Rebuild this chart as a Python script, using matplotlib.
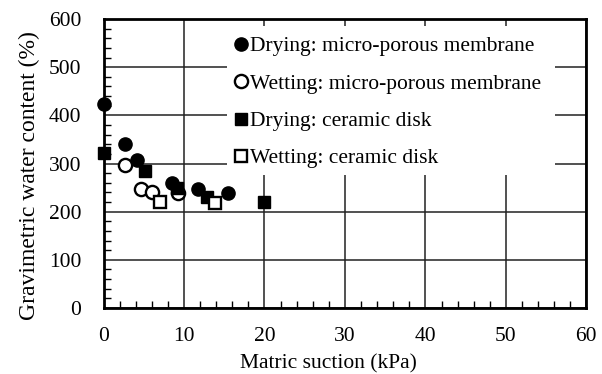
import matplotlib
matplotlib.use("Agg")
import matplotlib.pyplot as plt
from matplotlib.patches import Rectangle
from matplotlib.ticker import MultipleLocator

plt.rcParams['font.family'] = ['Liberation Serif', 'DejaVu Serif']

# data
dry_mem_x = [0.1, 2.7, 4.2, 8.5, 11.8, 15.5]
dry_mem_y = [424, 341, 308, 259, 248, 239]
wet_mem_x = [2.7, 4.7, 6.0, 9.2]
wet_mem_y = [296, 248, 241, 239]
dry_cer_x = [0.1, 5.2, 9.1, 12.8, 20.0]
dry_cer_y = [322, 284, 250, 230, 221]
wet_cer_x = [7.0, 13.9]
wet_cer_y = [221, 219]
labels = ["Drying: micro-porous membrane", "Wetting: micro-porous membrane",
          "Drying: ceramic disk", "Wetting: ceramic disk"]

fs = 15.5

fig = plt.figure(figsize=(6.02, 3.74), dpi=100)
ax = fig.add_axes([0.172, 0.1765, 0.802, 0.7725])
ax.set_xlim(0, 60)
ax.set_ylim(0, 600)
ax.xaxis.set_major_locator(MultipleLocator(10))
ax.xaxis.set_minor_locator(MultipleLocator(2))
ax.yaxis.set_major_locator(MultipleLocator(100))
ax.yaxis.set_minor_locator(MultipleLocator(20))
ax.set_axisbelow(True)
ax.grid(True, which='major', color='#222222', lw=1.1)
ax.tick_params(which='both', direction='in', top=False, right=False,
               labelsize=fs, colors='black')
ax.tick_params(which='major', length=0)
ax.tick_params(which='minor', length=5, width=1)
ax.tick_params(axis='y', pad=16)
ax.tick_params(axis='x', pad=14)
for s in ax.spines.values():
    s.set_linewidth(2)

# white box behind the legend hides the grid
ax.add_patch(Rectangle((0.256, 0.46), 0.679, 0.515, transform=ax.transAxes,
                       facecolor='white', edgecolor='none', zorder=1))

ms = 9.5
ax.plot(dry_mem_x, dry_mem_y, 'o', ms=ms, color='black', mec='black',
        label=labels[0], zorder=3, clip_on=False)
ax.plot(wet_mem_x, wet_mem_y, 'o', ms=ms, mfc='white', mec='black', mew=1.7,
        label=labels[1], zorder=3)
ax.plot(dry_cer_x, dry_cer_y, 's', ms=8.5, color='black', mec='black',
        label=labels[2], zorder=3, clip_on=False)
ax.plot(wet_cer_x, wet_cer_y, 's', ms=8.5, mfc='white', mec='black', mew=1.7,
        label=labels[3], zorder=3)

ax.legend(loc='upper left', bbox_to_anchor=(0.272, 0.94), frameon=False,
          fontsize=fs, borderpad=0, handlelength=0.55, handletextpad=0.15,
          labelspacing=0.8, borderaxespad=0)

fig.text(29 / 602, 1 - 176 / 374, "Gravimetric water content (%)", rotation=90,
         ha='center', va='center', fontsize=17)
fig.text(328 / 602, 1 - 364 / 374, "Matric suction (kPa)",
         ha='center', va='center', fontsize=fs)

fig.savefig("out.png", dpi=100)
